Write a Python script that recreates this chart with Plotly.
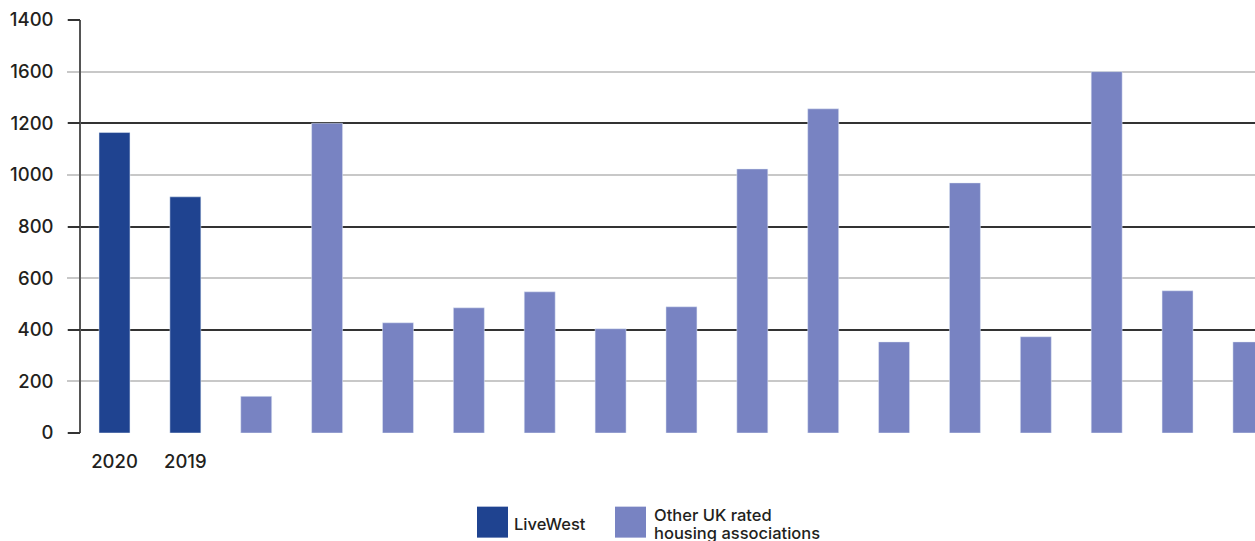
import plotly.graph_objects as go

# Series data
livewest_name = "LiveWest"
other_name_lines = ["Other UK rated", "housing associations"]
livewest_years = ["2020", "2019"]
livewest_values = [1164, 915]
other_values = [142, 1200, 427, 485, 547, 404, 489, 1023, 1256, 353, 969, 373, 1400, 551, 353]

# Axis tick labels (as printed on the axis)
y_tickvals = [0, 200, 400, 600, 800, 1000, 1200, 1400, 1600]
y_ticktext = ["0", "200", "400", "600", "800", "1000", "1200", "1600", "1400"]
dark_grid_vals = [0, 400, 800, 1200, 1600]

DARK_BLUE = "#1f4390"
LIGHT_BLUE = "#7883c2"
FONT = "Inter"
TEXT = "#231f20"

lw_x = list(range(len(livewest_values)))
other_x = list(range(len(livewest_values), len(livewest_values) + len(other_values)))

fig = go.Figure()
fig.add_trace(go.Bar(x=lw_x, y=livewest_values, marker_color=DARK_BLUE,
                     width=0.437, name=livewest_name, showlegend=False))
fig.add_trace(go.Bar(x=other_x, y=other_values, marker_color=LIGHT_BLUE,
                     width=0.437, name=" ".join(other_name_lines), showlegend=False))
# helper trace so the overlaid axis (dark gridlines) is rendered
fig.add_trace(go.Scatter(x=[0], y=[0], yaxis="y2", mode="markers",
                         marker=dict(opacity=0), hoverinfo="skip", showlegend=False))

tick_font = dict(size=18.5, family=FONT, color=TEXT, weight=500)

fig.update_layout(
    width=1255, height=541,
    margin=dict(l=81, r=0, t=20, b=108),
    paper_bgcolor="white", plot_bgcolor="white",
    barmode="overlay",
    font=dict(family=FONT, color=TEXT, size=18),
    xaxis=dict(
        range=[-0.4727, 16.093],
        tickvals=lw_x, ticktext=livewest_years,
        ticks="outside", ticklen=12, tickcolor="rgba(0,0,0,0)",
        showgrid=False, zeroline=False, showline=False,
        tickfont=tick_font,
    ),
    yaxis=dict(
        range=[0, 1600], tickvals=y_tickvals, ticktext=y_ticktext,
        ticks="outside", ticklen=12, tickwidth=2, tickcolor="#c8c8c8",
        ticklabelstandoff=10,
        showgrid=True, gridcolor="#c8c8c8", gridwidth=2,
        zeroline=False, showline=True, linecolor="#555555", linewidth=1.5,
        tickfont=tick_font,
    ),
    yaxis2=dict(
        range=[0, 1600], overlaying="y", side="left", tickvals=dark_grid_vals,
        showticklabels=False, ticks="outside", ticklen=12, tickwidth=2,
        tickcolor="#333333", showgrid=True, gridcolor="#333333", gridwidth=2,
        zeroline=False, showline=False,
    ),
)

# Legend drawn below the plot with large square swatches
def px_x(px):
    return (px - 81) / 1174

def px_y(py):
    return (433.3 - py) / 413.3

legend_items = [(DARK_BLUE, 477), (LIGHT_BLUE, 615)]
for color, left in legend_items:
    fig.add_shape(type="rect", xref="paper", yref="paper",
                  x0=px_x(left), x1=px_x(left + 31), y0=px_y(538), y1=px_y(507),
                  fillcolor=color, line_width=0)

legend_font = dict(size=16.5, family=FONT, color=TEXT, weight=500)
fig.add_annotation(text=livewest_name, xref="paper", yref="paper",
                   x=px_x(512), y=px_y(524), xanchor="left", yanchor="middle",
                   showarrow=False, font=legend_font)
for i, line in enumerate(other_name_lines):
    fig.add_annotation(text=line, xref="paper", yref="paper",
                       x=px_x(652), y=px_y(515 + 18 * i), xanchor="left", yanchor="middle",
                       showarrow=False, font=legend_font)

fig.write_html("out.html")
